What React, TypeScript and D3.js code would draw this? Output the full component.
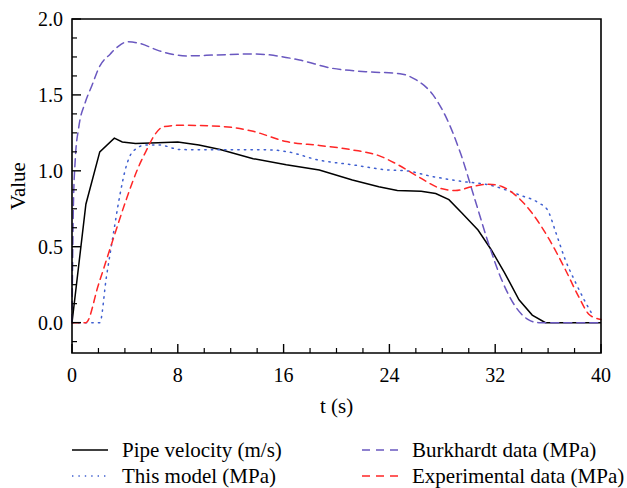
import * as d3 from "d3";
import React from "react";

// pipe velocity (m/s)
const pipeT = [0, 1.05, 2.1, 3.2, 3.8, 4.8, 6.5, 8, 9.6, 11.2, 13.7, 16.2, 18.7, 21.2, 23.2, 24.6, 26.4, 27.5, 28.5, 29.5, 30.7, 31.7, 32.7, 33.8, 34.8, 35.8, 40];
const pipeV = [0, 0.78, 1.125, 1.215, 1.19, 1.18, 1.185, 1.19, 1.17, 1.14, 1.08, 1.04, 1.005, 0.94, 0.895, 0.87, 0.865, 0.85, 0.81, 0.72, 0.61, 0.48, 0.33, 0.15, 0.05, 0, 0];

// this model (MPa)
const modelT = [0, 2.1, 2.6, 3.1, 3.6, 4.1, 4.6, 5.6, 6.6, 8.2, 11.7, 14.9, 16.2, 18.7, 21.2, 23.75, 25.3, 27, 29.5, 31.5, 33.8, 35.3, 35.95, 36.6, 37.3, 38.1, 38.85, 39.3];
const modelV = [0, 0, 0.3, 0.57, 0.83, 1.03, 1.127, 1.17, 1.17, 1.14, 1.138, 1.138, 1.127, 1.07, 1.04, 1.007, 1.0, 0.967, 0.93, 0.908, 0.842, 0.788, 0.743, 0.59, 0.414, 0.26, 0.13, 0.06];

// Burkhardt data (MPa)
const burkT = [0, 0.1, 0.25, 0.5, 1.0, 1.5, 2.1, 2.9, 3.5, 4.2, 5.1, 6.6, 8.7, 10.9, 13.7, 17.2, 19.7, 22.2, 24.8, 26.0, 27.3, 28.3, 29.4, 30.4, 31.5, 32.5, 33.5, 34.5, 35.3, 40];
const burkV = [0, 0.75, 1.08, 1.28, 1.45, 1.56, 1.69, 1.77, 1.82, 1.85, 1.84, 1.79, 1.757, 1.763, 1.77, 1.73, 1.675, 1.653, 1.64, 1.6, 1.5, 1.35, 1.11, 0.83, 0.52, 0.28, 0.11, 0.02, 0, 0];

// experimental data (MPa)
const expT = [0, 1.05, 2, 3, 4.1, 5.0, 5.6, 6.2, 6.9, 8.2, 10.4, 12.2, 13.7, 16.2, 18.7, 21.2, 23.2, 24.75, 26.3, 27.8, 29.0, 30.3, 31.5, 32.5, 33.5, 34.8, 36.1, 37.3, 38.3, 39.1, 39.6, 40];
const expV = [0, 0, 0.25, 0.52, 0.81, 1.02, 1.13, 1.23, 1.29, 1.3, 1.296, 1.285, 1.26, 1.193, 1.167, 1.138, 1.1, 1.035, 0.955, 0.886, 0.87, 0.897, 0.912, 0.897, 0.842, 0.72, 0.546, 0.35, 0.173, 0.053, 0.03, 0.02];

const xTicks = [0, 8, 16, 24, 32, 40];
const yTicks = [0, 0.5, 1.0, 1.5, 2.0];

const FONT = "Liberation Serif, Times New Roman, DejaVu Serif, serif";

const series = [
  { t: pipeT, v: pipeV, color: "#000000", dash: "none", curve: d3.curveLinear },
  { t: modelT, v: modelV, color: "#3f5fd0", dash: "1.4,5.2", curve: d3.curveMonotoneX },
  { t: burkT, v: burkV, color: "#6a58c0", dash: "8,5", curve: d3.curveMonotoneX },
  { t: expT, v: expV, color: "#ff2626", dash: "7,5", curve: d3.curveMonotoneX },
];

const legend = [
  { label: "Pipe velocity (m/s)", color: "#000000", dash: "none", col: 0, row: 0 },
  { label: "This model (MPa)", color: "#3f5fd0", dash: "1.4,5", col: 0, row: 1 },
  { label: "Burkhardt data (MPa)", color: "#6a58c0", dash: "8,6", col: 1, row: 0 },
  { label: "Experimental data (MPa)", color: "#ff2626", dash: "8,6", col: 1, row: 1 },
];

const App = () => {
  const W = 627;
  const H = 488;
  const left = 72, right = 601, top = 19, bottom = 353;

  const x = d3.scaleLinear().domain([0, 40]).range([left, right]);
  const y = d3.scaleLinear().domain([-0.2, 2.0]).range([bottom, top]);

  const xMinor = d3.range(0, 40.01, 2).filter((d) => d % 8 !== 0);
  const yMinor = d3.range(-0.125, 2.0, 0.125).filter((d) => Math.abs(d * 2 - Math.round(d * 2)) > 1e-6);

  const legendCols = [{ lx: 72, tx: 122 }, { lx: 362, tx: 412 }];
  const legendRows = [450, 476];

  return (
    <svg width={W} height={H} fontFamily={FONT} style={{ position: "absolute", left: 0, top: 0, background: "#fff" }}>
      {series.map((s, i) => {
        const pts: [number, number][] = s.t.map((t, j) => [t, s.v[j]]);
        const line = d3.line<[number, number]>().x((d) => x(d[0])).y((d) => y(d[1])).curve(s.curve);
        return (
          <path
            key={i}
            d={line(pts) || undefined}
            fill="none"
            stroke={s.color}
            strokeWidth={1.5}
            strokeDasharray={s.dash}
            strokeLinecap={s.dash === "none" ? "butt" : "round"}
          />
        );
      })}

      {/* frame */}
      <path d={`M${left},${top}H${right}V${bottom}H${left}Z`} fill="none" stroke="#000" strokeWidth={1.6} />

      {/* x ticks */}
      {xTicks.map((t) => (
        <g key={"xt" + t}>
          <line x1={x(t)} x2={x(t)} y1={bottom} y2={bottom - 9} stroke="#000" strokeWidth={1.4} />
          <text x={x(t)} y={382} textAnchor="middle" fontSize={20}>{t}</text>
        </g>
      ))}
      {xMinor.map((t) => (
        <line key={"xm" + t} x1={x(t)} x2={x(t)} y1={bottom} y2={bottom - 5} stroke="#000" strokeWidth={1.2} />
      ))}

      {/* y ticks */}
      {yTicks.map((v) => (
        <g key={"yt" + v}>
          <line x1={left} x2={left + 9} y1={y(v)} y2={y(v)} stroke="#000" strokeWidth={1.4} />
          <text x={63} y={y(v)} dy="0.35em" textAnchor="end" fontSize={20}>{v.toFixed(1)}</text>
        </g>
      ))}
      {yMinor.map((v) => (
        <line key={"ym" + v} x1={left} x2={left + 5} y1={y(v)} y2={y(v)} stroke="#000" strokeWidth={1.2} />
      ))}

      {/* axis titles */}
      <text x={(left + right) / 2} y={413} textAnchor="middle" fontSize={21}>t (s)</text>
      <text transform={`translate(25,${(top + bottom) / 2}) rotate(-90)`} textAnchor="middle" fontSize={21}>Value</text>

      {/* legend */}
      {legend.map((l) => {
        const c = legendCols[l.col];
        const ry = legendRows[l.row];
        return (
          <g key={l.label}>
            <line
              x1={c.lx}
              x2={c.lx + 36}
              y1={ry}
              y2={ry}
              stroke={l.color}
              strokeWidth={1.5}
              strokeDasharray={l.dash}
            />
            <text x={c.tx} y={ry + 7} fontSize={21}>{l.label}</text>
          </g>
        );
      })}
    </svg>
  );
};

export default App;
